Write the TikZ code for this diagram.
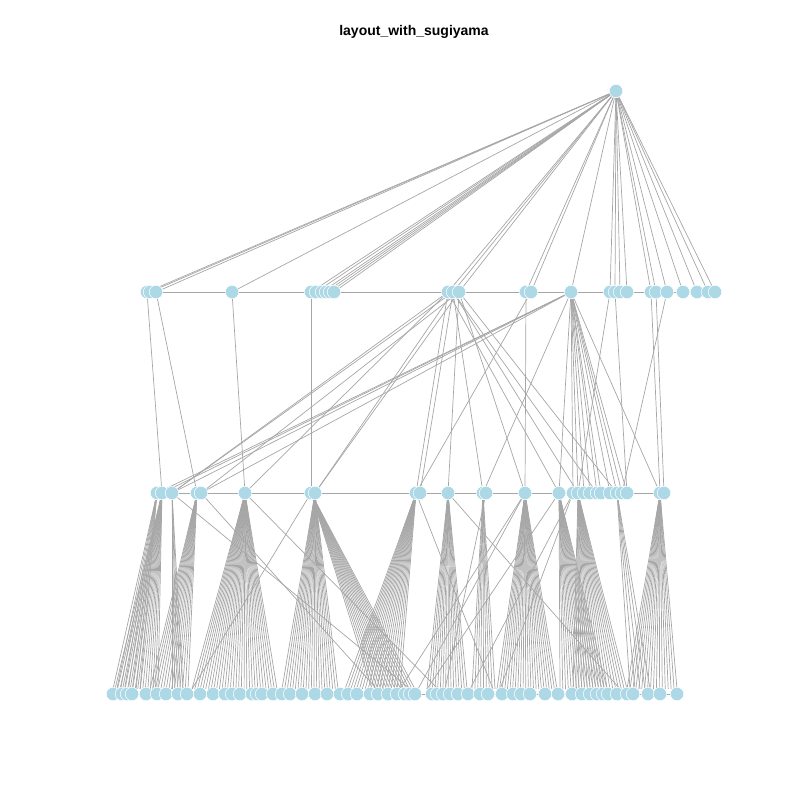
\documentclass[tikz,border=0pt]{standalone}
\usepackage{fontspec}
\newfontfamily\titlefont{Liberation Sans}
\usetikzlibrary{arrows}
\usetikzlibrary{calc}
\definecolor{vblue}{RGB}{173,216,230}
\definecolor{egray}{RGB}{166,166,166}
\pgfdeclarelayer{bg}
\pgfsetlayers{bg,main}

\begin{document}
\begin{tikzpicture}[x=1pt,y=-1pt,
    vert/.style={circle,fill=vblue,draw=white,line width=0.5pt,inner sep=0pt,minimum size=13.5pt},
    edge/.style={draw=egray,line width=0.7pt}]
    \useasboundingbox (0,0) rectangle (800,800);

    \node[font=\titlefont\bfseries\fontsize{14}{16}\selectfont] (title) at (414,32) {layout\_with\_sugiyama};

    % root
    \node[vert] (r) at (616,91) {};

    % first layer
    \foreach \x [count=\i] in {147,150,156,232,311,316,322,326,330,334,448,453,459,526,531,571,610,615,620,627,651,656,667,683,697,708,715}
      \node[vert] (a\i) at (\x,292) {};

    % second layer
    \foreach \x [count=\i] in {157,162,172,197,201,245,311,315,416,420,448,483,486,525,559,573,578,584,590,597,601,610,617,622,627,660,664}
      \node[vert] (b\i) at (\x,493) {};

    % third layer
    \foreach \x [count=\i] in {113,122,127,132,146,157,166,178,187,200,213,225,232,240,252,257,262,273,282,290,
        302,315,327,340,348,357,370,378,388,397,405,410,415,432,437,443,450,458,468,480,
        488,502,513,521,530,545,558,572,582,590,597,603,608,617,627,633,648,660,677}
      \node[vert] (e\i) at (\x,694) {};

    % fan ends on top of the third layer
    \foreach \p/\xa/\xb/\n [count=\k] in {b1/113/140/8, b2/115/158/18, b3/172/183/5, b4/150/188/15,
        b6/192/277/32, b8/282/338/22, b7/372/415/16, b9/345/400/20, b11/427/467/16, b12/472/495/9,
        b14/497/557/24, b15/560/607/18, b17/573/627/20, b23/630/650/5, b26/627/677/18}
      \foreach \i in {1,...,\n} {
        \pgfmathsetmacro\xx{\xa+(\i-1)*(\xb-\xa)/(\n-1)}
        \coordinate (c-\k-\i) at (\xx,689);
      }
    \foreach \p/\x [count=\k] in {b3/410, b5/377, b7/192, b9/493, b11/620, b14/400, b14/418,
        b15/427, b16/470, b16/500, b6/438, b13/445}
      \coordinate (d-\k) at (\x,689);

    \begin{pgfonlayer}{bg}
      \path[edge] (a1) -- (a27);
      \path[edge] (b1) -- (b27);
      \path[edge] (e1) -- (e59);

      \foreach \i in {1,...,27}
        \path[edge] (r) -- (a\i);

      \foreach \s/\t in {1/2, 3/4, 4/6, 5/7,
          11/3, 12/3, 13/5, 11/6, 12/8, 13/8, 11/9, 12/10, 13/11, 12/12, 13/14,
          11/15, 12/17, 12/20, 13/23, 14/14, 15/9,
          16/1, 16/2, 16/3, 16/5, 16/12, 16/15, 16/16, 16/17, 16/18, 16/19, 16/20,
          16/21, 16/22, 16/23, 16/24, 16/25, 16/26,
          17/17, 18/25, 21/26, 22/27, 23/24}
        \path[edge] (a\s) -- (b\t);

      \foreach \p/\xa/\xb/\n [count=\k] in {b1/113/140/8, b2/115/158/18, b3/172/183/5, b4/150/188/15,
          b6/192/277/32, b8/282/338/22, b7/372/415/16, b9/345/400/20, b11/427/467/16, b12/472/495/9,
          b14/497/557/24, b15/560/607/18, b17/573/627/20, b23/630/650/5, b26/627/677/18}
        \foreach \i in {1,...,\n}
          \path[edge] (\p) -- (c-\k-\i);

      \foreach \p/\x [count=\k] in {b3/410, b5/377, b7/192, b9/493, b11/620, b14/400, b14/418,
          b15/427, b16/470, b16/500, b6/438, b13/445}
        \path[edge] (\p) -- (d-\k);
    \end{pgfonlayer}
  \end{tikzpicture}
\end{document}
